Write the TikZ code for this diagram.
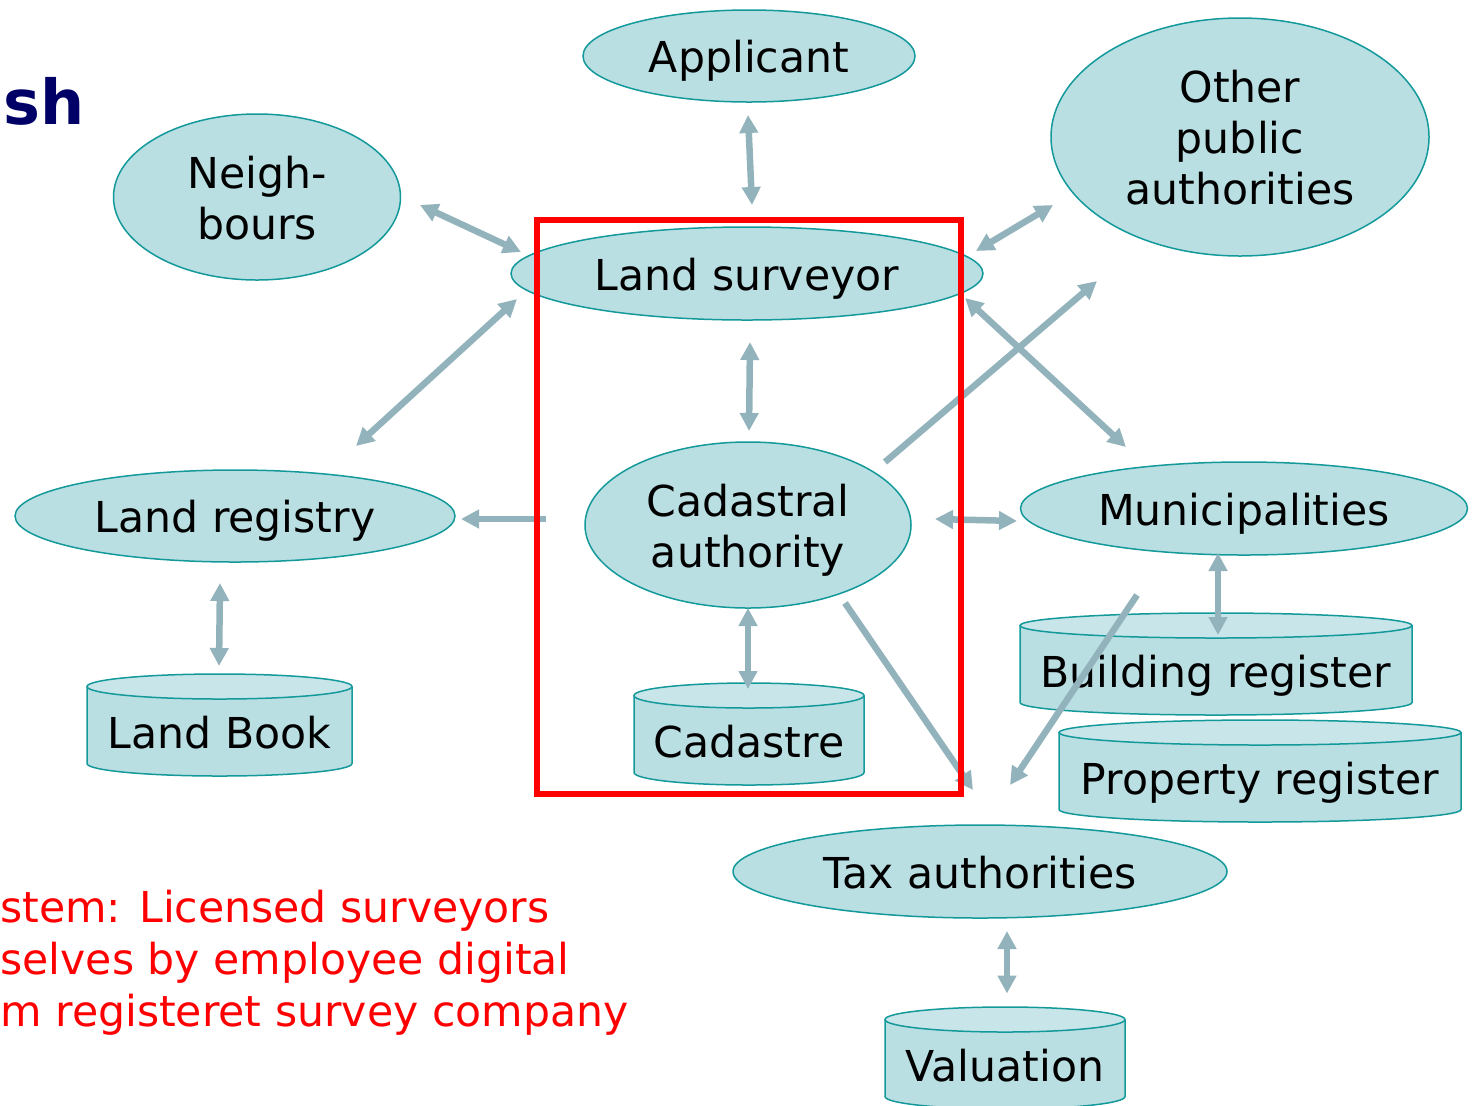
\documentclass[tikz,border=0pt]{standalone}
\usepackage{fontspec}
\setmainfont{DejaVu Sans}
\usetikzlibrary{shapes.geometric,arrows.meta,calc}
\definecolor{nodefill}{HTML}{B9DFE3}
\definecolor{nodeline}{HTML}{14999B}
\definecolor{cyltop}{HTML}{C8E6E9}
\definecolor{arrowc}{HTML}{93B3BC}
\definecolor{navy}{HTML}{000066}
\pgfdeclarelayer{background}
\pgfsetlayers{background,main}
\newcommand\tstrut{\rule{0pt}{1em}}
\newcommand\bstrut{\rule[-0.225em]{0pt}{0.225em}}
\newcommand\drawcyl[2]{%
  \fill[nodefill] ($(#1.north west)+(0pt,6.25pt)$) -- ($(#1.south west)+(0pt,6.25pt)$)
    arc[start angle=180,end angle=360,x radius=#2,y radius=6.25pt]
    -- ($(#1.north east)+(0pt,6.25pt)$) -- cycle;
  \draw[draw=nodeline, line width=0.75pt] ($(#1.north west)+(0pt,6.25pt)$) -- ($(#1.south west)+(0pt,6.25pt)$)
    arc[start angle=180,end angle=360,x radius=#2,y radius=6.25pt]
    -- ($(#1.north east)+(0pt,6.25pt)$);
  \draw[draw=nodeline, line width=0.75pt, fill=cyltop] ($(#1.north)+(0pt,6.25pt)$) ellipse[x radius=#2, y radius=6.25pt];
}
\tikzset{
  basefont/.style={font=\fontsize{21.3pt}{25.5pt}\selectfont, inner sep=0pt, outer sep=0pt},
  ell/.style={basefont, ellipse, fill=nodefill, draw=nodeline, line width=0.75pt},
  oneline/.style={text height=21.3pt, text depth=4.8pt},
  multiline/.style={align=center},
  cylnode/.style={basefont, rectangle, text height=16pt, text depth=5.5pt, minimum height=38.5pt},
  link/.style={draw=arrowc, line width=3.25pt},
  frame/.style={draw=red, line width=3pt, inner sep=0pt},
}
\begin{document}
\begin{tikzpicture}[x=0.5pt, y=-0.5pt, >={Triangle[width=9pt,length=9pt]}]
\useasboundingbox (0,0) rectangle (1476,1105);

% title fragment and note
\node[font=\fontsize{31pt}{36pt}\selectfont\bfseries, text=navy, anchor=base west, inner sep=0pt] (title) at (3,124) {sh};
\node[font=\fontsize{21.3pt}{26pt}\selectfont, text=red, align=left, anchor=north west, inner sep=0pt] (note) at (0,879.4)
  {\tstrut stem: Licensed surveyors\\selves by employee digital\\m registeret survey company};

% ellipses
\node[ell, oneline, minimum width=166pt, minimum height=46pt] (app) at (749,56) {Applicant};
\node[ell, multiline, minimum width=143.5pt, minimum height=83pt] (nb) at (257,197) {\tstrut Neigh-\\bours\bstrut};
\node[ell, multiline, minimum width=189pt, minimum height=119pt] (opa) at (1240,137) {\tstrut Other\\public\\authorities\bstrut};
\node[ell, oneline, minimum width=236pt, minimum height=46.5pt] (ls) at (747,273.5) {Land surveyor};
\node[ell, oneline, minimum width=220pt, minimum height=46pt] (lr) at (235,516) {Land registry};
\node[ell, multiline, minimum width=163pt, minimum height=83pt] (cad) at (748,525) {\tstrut Cadastral\\authority\bstrut};
\node[ell, oneline, minimum width=223.5pt, minimum height=46.5pt] (mun) at (1244,508.5) {Municipalities};
\node[ell, oneline, minimum width=247pt, minimum height=46.5pt] (tax) at (980,871.5) {Tax authorities};

% cylinders (text nodes cover the body)
\node[cylnode, minimum width=132.5pt] (lb) at (219.5,737.5) {Land Book};
\node[cylnode, minimum width=115pt] (cdst) at (749,746.5) {Cadastre};
\node[cylnode, minimum width=196pt] (br) at (1216,676.5) {Building register};
\node[cylnode, minimum width=201pt] (pr) at (1260,783.5) {Property register};
\node[cylnode, minimum width=120pt] (val) at (1005,1070.5) {Valuation};
\begin{pgfonlayer}{background}
  \drawcyl{lb}{66.25pt}
  \drawcyl{cdst}{57.5pt}
  \drawcyl{br}{98pt}
  \drawcyl{pr}{100.5pt}
  \drawcyl{val}{60pt}
\end{pgfonlayer}

% connectors
\draw[link,<->] ($(app)+(-1,59)$) -- ($(ls)+(5,-68.5)$);
\draw[link,<->] ($(nb)+(163,8)$) -- ($(ls)+(-226,-21.5)$);
\draw[link,<->] ($(lr)+(121,-70)$) -- ($(ls)+(-230,25.5)$);
\draw[link,<->] ($(ls)+(229,-22.5)$) -- ($(opa)+(-187,68)$);
\draw[link,<->] ($(ls)+(3,68.5)$) -- ($(cad)+(1,-94)$);
\draw[link,->] ($(cad)+(137,-63)$) -- ($(opa)+(-143,144)$);
\draw[link,<->] ($(ls)+(218,24.5)$) -- ($(mun)+(-118,-61.5)$);
\draw[link,->] ($(cad)+(-202,-6)$) -- ($(lr)+(226,3)$);
\draw[link,<->] ($(cad)+(187,-6)$) -- ($(mun)+(-227,12.5)$);
\draw[link,<->] ($(lr)+(-15,67)$) -- ($(lb)+(-0.5,-71.5)$);
\draw[link,<->] ($(cad)+(0,83)$) -- ($(cdst)+(-1,-57.5)$);
\draw[link,<->] ($(mun)+(-26,44.5)$) -- ($(br)+(2,-41.5)$);
\draw[link,->] ($(cad)+(97,78)$) -- ($(tax)+(-7,-81.5)$);
\draw[link,->] ($(mun)+(-107,86.5)$) -- ($(tax)+(30,-86.5)$);
\draw[link,<->] ($(tax)+(27,59.5)$) -- ($(val)+(2,-77)$);

% red frame
\node[frame, minimum width=212pt, minimum height=287pt] (box) at (749,507) {};
\end{tikzpicture}
\end{document}
